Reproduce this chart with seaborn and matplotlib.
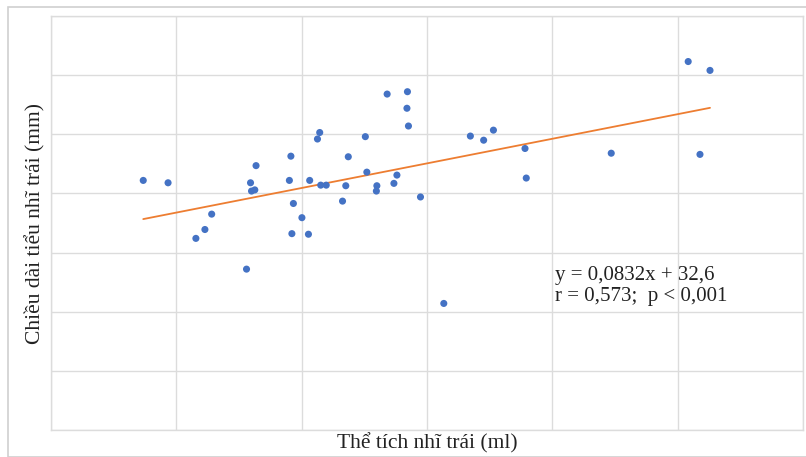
import numpy as np
import pandas as pd
import seaborn as sns
from matplotlib import pyplot as plt
from matplotlib.patches import Rectangle

# Left atrial volume (ml) vs left atrial appendage length (mm)
volume = [36.8, 46.7, 57.8, 61.4, 64.1, 78.0, 79.6, 80.0, 81.3, 81.8,
          95.1, 95.7, 96.1, 96.7, 100.1, 102.7, 103.2, 106.3, 107.2, 107.6,
          109.8, 116.3, 117.6, 118.6, 125.4, 126.0, 129.8, 130.0, 134.1, 136.8,
          138.0, 142.2, 142.0, 142.6, 147.4, 156.7, 167.3, 172.6, 176.5, 189.1,
          189.6, 223.5, 254.2, 258.9, 262.9]
length = [42.2, 41.8, 32.4, 33.9, 36.5, 27.2, 41.8, 40.4, 40.6, 44.7,
          42.2, 46.3, 33.2, 38.3, 35.9, 33.1, 42.2, 49.2, 50.3, 41.4,
          41.4, 38.7, 41.3, 46.2, 49.6, 43.6, 40.4, 41.3, 56.8, 41.7,
          43.1, 57.2, 54.4, 51.4, 39.4, 21.4, 49.7, 49.0, 50.7, 47.6,
          42.6, 46.8, 62.3, 46.6, 60.8]

slope = 0.0832
intercept = 32.6
eq_text = "y = 0,0832x + 32,6\nr = 0,573;  p < 0,001"
x_label = "Thể tích nhĩ trái (ml)"
y_label = "Chiều dài tiểu nhĩ trái (mm)"

if __name__ == "__main__":
    sns.set_theme(style="whitegrid")
    plt.rcParams["font.family"] = ["Liberation Serif", "DejaVu Serif"]

    df = pd.DataFrame({"vol": volume, "len": length})
    xs = np.array([min(volume), max(volume)])
    fit = pd.DataFrame({"vol": xs, "len": slope * xs + intercept})

    fig = plt.figure(figsize=(8.06, 4.57), dpi=100)
    fig.patches.append(Rectangle((8 / 806, 0), 1, 1 - 7 / 457, transform=fig.transFigure,
                                 fill=False, edgecolor="#d0d0d0", linewidth=1.2))
    ax = fig.add_axes([51 / 806, 27 / 457, 752 / 806, 414 / 457])

    sns.lineplot(fit, x="vol", y="len", color="#ED7D31", linewidth=1.3, ax=ax, zorder=2)
    sns.scatterplot(df, x="vol", y="len", color="#4472C4", s=26, edgecolor="none",
                    ax=ax, zorder=3)

    ax.set_xlim(0, 300)
    ax.set_ylim(0, 70)
    ax.set_xticks(np.arange(0, 301, 50))
    ax.set_yticks(np.arange(0, 71, 10))
    ax.tick_params(labelbottom=False, labelleft=False, length=0)
    ax.grid(color="#dcdcdc", linewidth=1)
    for sp in ax.spines.values():
        sp.set_color("#dcdcdc")
        sp.set_linewidth(1)

    ax.set_xlabel(x_label, fontsize=15.5, color="#222222", labelpad=2)
    ax.set_ylabel(y_label, fontsize=15.5, color="#222222")
    ax.yaxis.set_label_coords(-6 / 752, 0.5)
    ax.text(201, 24.3, eq_text, fontsize=15, color="#222222",
            ha="left", va="center", linespacing=1.15)

    plt.savefig("out.png", dpi=100)
    plt.close()
